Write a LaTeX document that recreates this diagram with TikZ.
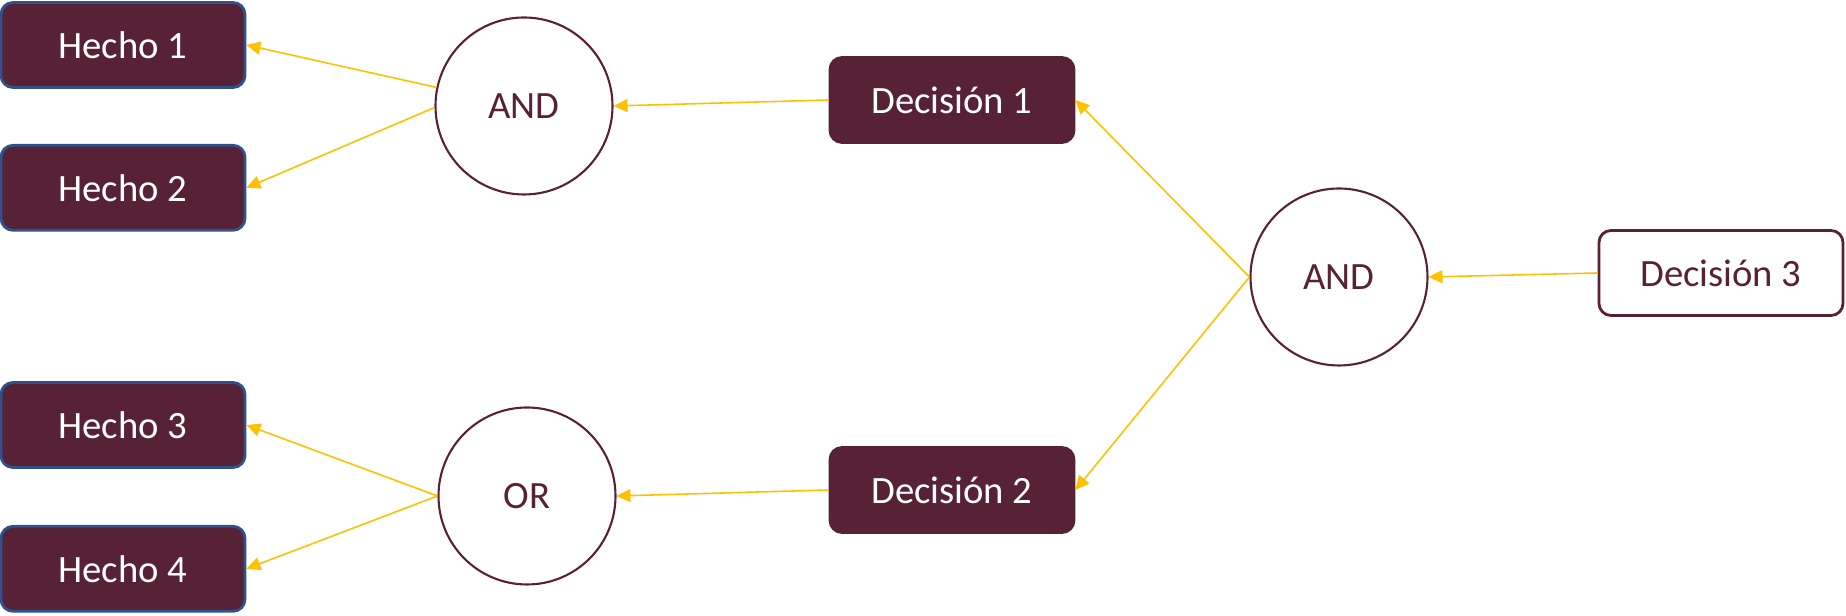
\documentclass[tikz,border=0pt]{standalone}
\usepackage{fontspec}
\setmainfont{Carlito}
\usetikzlibrary{positioning,arrows.meta}

\definecolor{maroon}{HTML}{582236}
\definecolor{factline}{HTML}{2F528F}
\definecolor{gold}{HTML}{FFC000}

\begin{document}
\begin{tikzpicture}[
	fact/.style = { draw=factline, line width=0.8pt, fill=maroon,
			text=white, rounded corners=1.2mm, minimum width=2.44cm,
			minimum height=0.85cm, font=\fontsize{11}{13}\selectfont },
	decision/.style = { fact, draw=maroon },
	goal/.style = { decision, fill=white, text=maroon },
	gate/.style = { circle, draw=maroon, line width=0.6pt, fill=white,
			text=maroon, minimum size=1.77cm, inner sep=0pt,
			font=\fontsize{11}{13}\selectfont },
	link/.style = { draw=gold, line width=0.45pt,
			-{Triangle[length=1.4mm, width=1.3mm]} }]

  \useasboundingbox (0,0) rectangle (18.46,-6.16);

  \node[name=hecho1, fact] at (1.23,-0.45) {Hecho 1};
  \node[name=hecho2, fact, below=0.55cm of hecho1] {Hecho 2};
  \node[name=hecho3, fact] at (1.23,-4.25) {Hecho 3};
  \node[name=hecho4, fact, below=0.56cm of hecho3] {Hecho 4};
  \node[name=and1, gate] at (5.24,-1.06) {AND};
  \node[name=or, gate] at (5.27,-4.96) {OR};
  \node[name=dec1, decision] at (9.52,-1.0) {Decisión 1};
  \node[name=dec2, decision] at (9.52,-4.90) {Decisión 2};
  \node[name=and2, gate] at (13.39,-2.77) {AND};
  \node[name=dec3, goal] at (17.21,-2.73) {Decisión 3};

  \draw [link] (and1.168) -- (hecho1.east);
  \draw [link] (and1.181) -- (hecho2.east);
  \draw [link] (or.west) -- (hecho3.east);
  \draw [link] (or.west) -- (hecho4.east);
  \draw [link] (dec1.west) -- (and1.east);
  \draw [link] (dec2.west) -- (or.east);
  \draw [link] (and2.west) -- (dec1.east);
  \draw [link] (and2.west) -- (dec2.east);
  \draw [link] (dec3.west) -- (and2.east);
\end{tikzpicture}
\end{document}
